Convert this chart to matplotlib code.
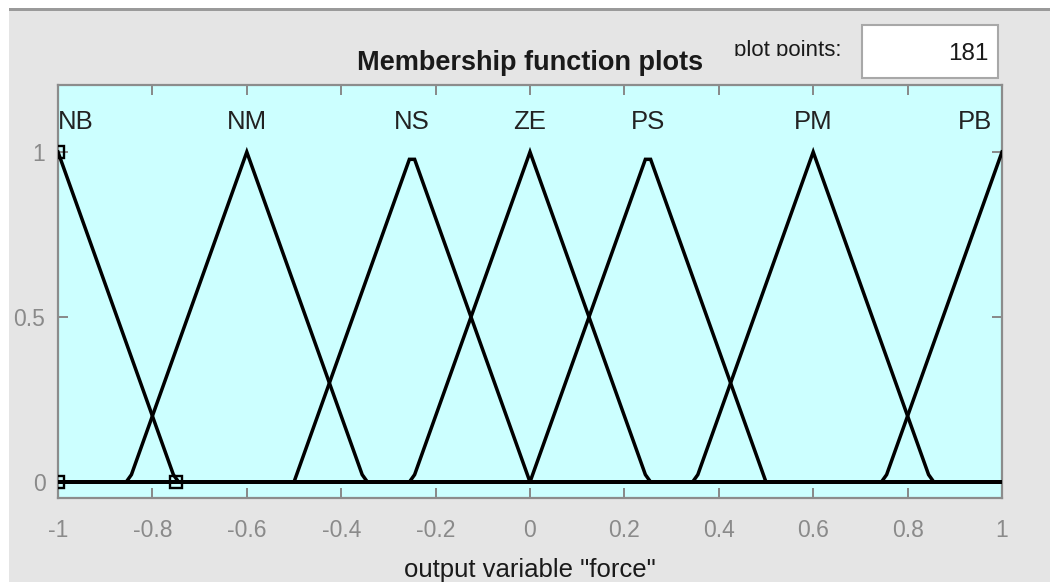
import numpy as np
import matplotlib
matplotlib.use("Agg")
import matplotlib.pyplot as plt
from matplotlib.patches import Rectangle
from matplotlib.transforms import Bbox, TransformedBbox

# Output variable "force": seven triangular membership functions
mf_names = ["NB", "NM", "NS", "ZE", "PS", "PM", "PB"]
mf_left = [-1.00, -0.85, -0.50, -0.25, 0.00, 0.35, 0.75]
mf_peak = [-1.00, -0.60, -0.25, 0.00, 0.25, 0.60, 1.00]
mf_right = [-0.75, -0.35, 0.00, 0.25, 0.50, 0.85, 1.00]
n_points = 181
x_range = (-1.0, 1.0)
x_ticks = [-1, -0.8, -0.6, -0.4, -0.2, 0, 0.2, 0.4, 0.6, 0.8, 1]
x_tick_labels = ["-1", "-0.8", "-0.6", "-0.4", "-0.2", "0", "0.2", "0.4", "0.6", "0.8", "1"]
y_ticks = [0, 0.5, 1]
y_tick_labels = ["0", "0.5", "1"]
selected = 0  # index of the highlighted function (its vertices get square handles)


def trimf(x, a, b, c):
    y = np.ones_like(x)
    if b > a:
        y = np.minimum(y, (x - a) / (b - a))
    if c > b:
        y = np.minimum(y, (c - x) / (c - b))
    y = np.where((x < a) | (x > c), 0.0, y)
    return np.clip(y, 0.0, 1.0)


W, H = 1050, 582
fig = plt.figure(figsize=(W / 100, H / 100), dpi=100)
fig.patch.set_facecolor("white")
plt.rcParams["font.family"] = ["Liberation Sans", "DejaVu Sans"]


def fx(px):
    return px / W


def fy(py):
    return (H - py) / H


# Window panel and its top border (behind the axes)
fig.add_artist(Rectangle((fx(9), 0), 1 - fx(9), fy(10), transform=fig.transFigure,
                         facecolor="#e5e5e5", edgecolor="none", zorder=-10))
fig.add_artist(Rectangle((fx(9), fy(11)), 1 - fx(9), fy(8) - fy(11), transform=fig.transFigure,
                         facecolor="#9a9a9a", edgecolor="none", zorder=-9))

ax = fig.add_axes([fx(58), fy(498), fx(1002) - fx(58), fy(85) - fy(498)])
ax.set_facecolor("#ccffff")

xs = np.linspace(x_range[0], x_range[1], n_points)
for a, b, c in zip(mf_left, mf_peak, mf_right):
    ax.plot(xs, trimf(xs, a, b, c), color="black", lw=2.5, solid_joinstyle="miter", zorder=3)

# Square handles on the vertices of the selected function
hx = [mf_left[selected], mf_peak[selected], mf_right[selected]]
hy = [0, 1, 0]
ax.plot(hx, hy, linestyle="none", marker="s", markersize=9, markerfacecolor="none",
        markeredgecolor="black", markeredgewidth=1.7, zorder=4)

# Function names above the peaks
for i, (name, p) in enumerate(zip(mf_names, mf_peak)):
    if i == 0:
        ax.text(p, 1.07, name, ha="left", va="baseline", fontsize=18.5, color="#222222")
    elif i == len(mf_names) - 1:
        ax.text(p - 0.02, 1.07, name, ha="right", va="baseline", fontsize=18.5, color="#222222")
    else:
        ax.text(p, 1.07, name, ha="center", va="baseline", fontsize=18.5, color="#222222")

ax.set_xlim(*x_range)
ax.set_ylim(-0.0485, 1.203)
ax.set_xticks(x_ticks)
ax.set_xticklabels(x_tick_labels)
ax.set_yticks(y_ticks)
ax.set_yticklabels(y_tick_labels)
ax.tick_params(axis="both", direction="in", length=7, width=1.4, color="#888888",
               labelcolor="#8a8a8a", labelsize=16.5, top=True, right=True)
ax.tick_params(axis="x", pad=15)
ax.tick_params(axis="y", pad=9)
for s in ax.spines.values():
    s.set_color("#8c8c8c")
    s.set_linewidth(1.6)

fig.text(fx(530), fy(577), 'output variable "force"', ha="center", va="baseline",
         fontsize=18.5, color="#1a1a1a")
fig.text(fx(530), fy(70.5), "Membership function plots", ha="center", va="baseline",
         fontsize=19.5, fontweight="bold", color="#1a1a1a")

# "plot points" control with its edit box
pp = fig.text(fx(842), fy(56), "plot points:", ha="right", va="baseline",
              fontsize=16, color="#1a1a1a")
pp.set_clip_box(TransformedBbox(Bbox([[fx(700), fy(56)], [fx(850), fy(30)]]), fig.transFigure))
pp.set_clip_on(True)
fig.add_artist(Rectangle((fx(862), fy(78)), fx(998) - fx(862), fy(25) - fy(78),
                         transform=fig.transFigure, facecolor="white",
                         edgecolor="#a8a8a8", linewidth=1.5, zorder=1))
fig.text(fx(989), fy(60), str(n_points), ha="right", va="baseline", fontsize=17.5,
         color="#1a1a1a", zorder=2)

fig.savefig("out.png", dpi=100, facecolor=fig.get_facecolor())
